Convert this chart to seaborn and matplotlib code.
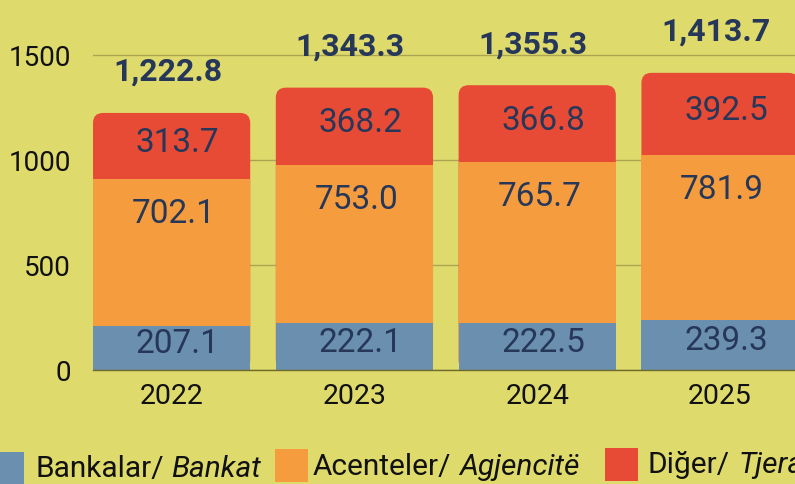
import pandas as pd
import seaborn as sns
import matplotlib.pyplot as plt
from matplotlib.patches import FancyBboxPatch, Rectangle

# data
years = ['2022', '2023', '2024', '2025']
bankat = [207.1, 222.1, 222.5, 239.3]
agjencite = [702.1, 753.0, 765.7, 781.9]
tjera = [313.7, 368.2, 366.8, 392.5]
totals = [1222.8, 1343.3, 1355.3, 1413.7]

legend_normal = ['Bankalar/', 'Acenteler/', 'Diğer/']
legend_italic = ['Bankat', 'Agjencitë', 'Tjera']

blue, orange, red = '#6A8FAF', '#F59D3E', '#E84B35'
bg = '#DEDA6B'
navy = '#263759'

sns.set_theme(style='white')
plt.rcParams['font.family'] = ['Roboto', 'DejaVu Sans']

df = pd.DataFrame({'year': years, 'bankat': bankat, 'agj': agjencite, 'tjera': tjera})
df['c1'] = df['bankat']
df['c2'] = df['c1'] + df['agj']
df['c3'] = df['c2'] + df['tjera']

W, H = 795, 485
fig = plt.figure(figsize=(W / 100, H / 100), dpi=100, facecolor=bg)
ax = fig.add_axes([93 / W, 114 / H, 1 - 93 / W, 371 / H])
ax.set_facecolor(bg)

# stacked bars drawn as cumulative layers
sns.barplot(data=df, x='year', y='c3', color=red, width=0.86, saturation=1, linewidth=0, ax=ax)
sns.barplot(data=df, x='year', y='c2', color=orange, width=0.86, saturation=1, linewidth=0, ax=ax)
sns.barplot(data=df, x='year', y='c1', color=blue, width=0.86, saturation=1, linewidth=0, ax=ax)

ax.set_xlim(-0.43, 3.41)
ax.set_ylim(0, 1765)

# round the top corners of the red layer
px_x = ax.bbox.width / (3.41 + 0.43)
px_y = ax.bbox.height / 1765
radius = 10
rx = radius / px_x
aspect = (radius / px_y) / rx
red_patches = list(ax.patches[:4])
for p in red_patches:
    x, y, w, h = p.get_x(), p.get_y(), p.get_width(), p.get_height()
    p.remove()
    rb = FancyBboxPatch((x, y), w, h, boxstyle=f'round,pad=0,rounding_size={rx}',
                        mutation_aspect=aspect, facecolor=red, edgecolor='none', zorder=1)
    ax.add_patch(rb)
for p in ax.patches:
    if not isinstance(p, FancyBboxPatch):
        p.set_zorder(2)

# value labels
for i in range(len(years)):
    c1, c2, c3 = df['c1'][i], df['c2'][i], df['c3'][i]
    ax.annotate(f'{bankat[i]:.1f}', (i, c1 / 2), xytext=(6, 5), textcoords='offset pixels',
                ha='center', va='center', fontsize=24, color=navy, zorder=5)
    ax.annotate(f'{agjencite[i]:.1f}', (i, c2), xytext=(2, -34), textcoords='offset pixels',
                ha='center', va='center', fontsize=24, color=navy, zorder=5)
    ax.annotate(f'{tjera[i]:.1f}', ((i), (c2 + c3) / 2), xytext=(6, 4), textcoords='offset pixels',
                ha='center', va='center', fontsize=24, color=navy, zorder=5)
    ax.annotate(f'{totals[i]:,.1f}', (i, c3), xytext=(-4, 42), textcoords='offset pixels',
                ha='center', va='center', fontsize=23, fontweight='bold', color=navy, zorder=5)

ax.set_xlabel('')
ax.set_ylabel('')
ax.set_yticks([0, 500, 1000, 1500])
ax.tick_params(axis='y', length=0, pad=16, labelsize=20, labelcolor='#111111')
ax.tick_params(axis='x', length=0, pad=9, labelsize=20.5, labelcolor='#111111')
ax.yaxis.grid(True, color='#ABA553', linewidth=1)
ax.set_axisbelow(True)
for s in ['top', 'right', 'left']:
    ax.spines[s].set_visible(False)
ax.spines['bottom'].set_color('#6F6A2A')
ax.spines['bottom'].set_linewidth(1)
ax.spines['bottom'].set_zorder(3)

# legend along the bottom edge
leg_patch_x = [-9, 275, 605]
leg_patch_top = [453, 450, 449]
leg_text_x = [35, 313, 648]
leg_base = [477, 475, 473]
fig.canvas.draw()
renderer = fig.canvas.get_renderer()
for color, px, pt, tx, base, n, it in zip([blue, orange, red], leg_patch_x, leg_patch_top,
                                          leg_text_x, leg_base, legend_normal, legend_italic):
    fig.add_artist(Rectangle((px / W, (H - pt - 33) / H), 33 / W, 33 / H,
                             transform=fig.transFigure, facecolor=color, edgecolor='none'))
    t = fig.text(tx / W, (H - base) / H, n, fontsize=21.5, color='#111111', va='baseline')
    ext = t.get_window_extent(renderer)
    fig.text((ext.x1 + 8) / W, (H - base) / H, it, fontsize=21.5, color='#111111',
             va='baseline', fontstyle='italic')

fig.savefig('out.png', dpi=100, facecolor=bg)
